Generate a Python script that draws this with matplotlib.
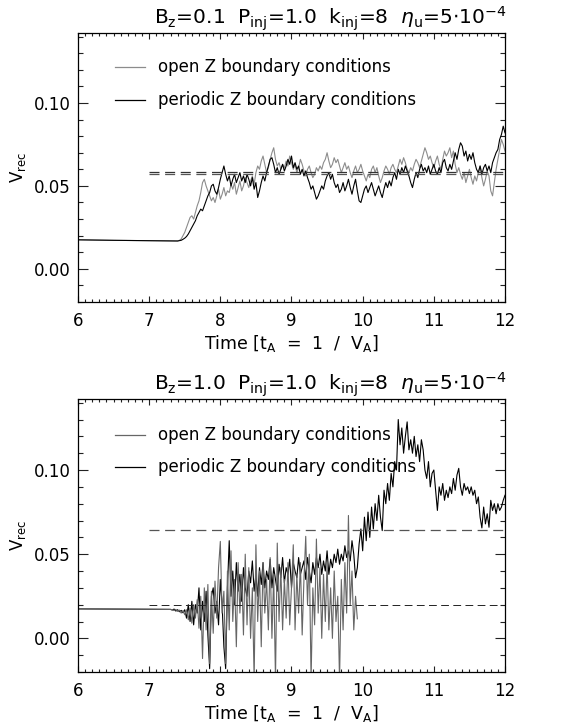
import numpy as np
import matplotlib
matplotlib.use('Agg')
import matplotlib.pyplot as plt
from matplotlib.ticker import MultipleLocator, FormatStrFormatter

# ---- top panel: Bz = 0.1 ----
t_flat = [6.0, 6.5, 7.0]
top_flat = [0.0175, 0.0172, 0.0170]

top_t = np.round(np.linspace(7.4, 12.0, 185), 3)
top_periodic = [
    0.0168, 0.0170, 0.0172, 0.0178, 0.0185, 0.0195, 0.021, 0.023, 0.025, 0.027, 0.029, 0.032, 0.034, 0.036, 0.035, 0.038, 0.041, 0.044, 0.046, 0.050,
    0.051, 0.047, 0.045, 0.049, 0.054, 0.058, 0.062, 0.057, 0.053, 0.056, 0.050, 0.054, 0.057, 0.052, 0.055, 0.058, 0.053, 0.056, 0.052, 0.057,
    0.054, 0.050, 0.055, 0.048, 0.052, 0.043, 0.047, 0.052, 0.056, 0.053, 0.058, 0.062, 0.066, 0.067, 0.063, 0.058, 0.061, 0.057, 0.060, 0.063,
    0.059, 0.062, 0.066, 0.063, 0.068, 0.061, 0.064, 0.060, 0.062, 0.057, 0.060, 0.056, 0.059, 0.055, 0.052, 0.048, 0.050, 0.046, 0.042, 0.044,
    0.047, 0.050, 0.048, 0.053, 0.056, 0.058, 0.054, 0.057, 0.052, 0.049, 0.051, 0.046, 0.048, 0.052, 0.047, 0.050, 0.054, 0.049, 0.045, 0.050,
    0.054, 0.047, 0.041, 0.040, 0.044, 0.048, 0.050, 0.046, 0.049, 0.052, 0.048, 0.044, 0.047, 0.050, 0.046, 0.043, 0.048, 0.052, 0.049, 0.053,
    0.050, 0.055, 0.058, 0.054, 0.060, 0.057, 0.061, 0.058, 0.062, 0.059, 0.056, 0.052, 0.049, 0.054, 0.058, 0.055, 0.060, 0.063, 0.059, 0.061,
    0.058, 0.062, 0.057, 0.060, 0.063, 0.059, 0.057, 0.061, 0.058, 0.064, 0.066, 0.061, 0.059, 0.063, 0.060, 0.065, 0.070, 0.066, 0.072, 0.076,
    0.074, 0.068, 0.071, 0.065, 0.069, 0.066, 0.070, 0.064, 0.060, 0.058, 0.062, 0.057, 0.061, 0.063, 0.059, 0.062, 0.058, 0.064, 0.067, 0.070,
    0.072, 0.078, 0.081, 0.086, 0.082,
]
top_open = [
    0.0168, 0.0172, 0.018, 0.020, 0.022, 0.025, 0.028, 0.031, 0.032, 0.030, 0.034, 0.038, 0.041, 0.046, 0.052, 0.054, 0.050, 0.047, 0.044, 0.041,
    0.043, 0.040, 0.044, 0.048, 0.042, 0.045, 0.049, 0.044, 0.047, 0.046, 0.051, 0.048, 0.052, 0.045, 0.049, 0.053, 0.047, 0.050, 0.055, 0.052,
    0.049, 0.053, 0.056, 0.051, 0.058, 0.062, 0.060, 0.065, 0.068, 0.063, 0.058, 0.061, 0.066, 0.070, 0.073, 0.066, 0.062, 0.064, 0.060, 0.063,
    0.061, 0.065, 0.062, 0.068, 0.064, 0.060, 0.063, 0.058, 0.061, 0.066, 0.063, 0.059, 0.056, 0.060, 0.062, 0.058, 0.055, 0.057, 0.061, 0.059,
    0.062, 0.060, 0.064, 0.066, 0.070, 0.065, 0.061, 0.063, 0.067, 0.064, 0.066, 0.062, 0.058, 0.061, 0.064, 0.060, 0.062, 0.058, 0.055, 0.059,
    0.062, 0.058, 0.060, 0.063, 0.059, 0.056, 0.053, 0.057, 0.055, 0.060, 0.062, 0.058, 0.061, 0.056, 0.052, 0.055, 0.059, 0.062, 0.060, 0.057,
    0.061, 0.063, 0.060, 0.058, 0.062, 0.066, 0.063, 0.067, 0.064, 0.060, 0.058, 0.061, 0.059, 0.063, 0.066, 0.064, 0.061, 0.065, 0.069, 0.073,
    0.070, 0.066, 0.068, 0.064, 0.061, 0.065, 0.068, 0.063, 0.060, 0.066, 0.071, 0.068, 0.070, 0.073, 0.067, 0.071, 0.063, 0.058, 0.061, 0.057,
    0.054, 0.058, 0.052, 0.056, 0.060, 0.055, 0.051, 0.056, 0.053, 0.058, 0.062, 0.055, 0.050, 0.054, 0.059, 0.056, 0.047, 0.044, 0.052, 0.060,
    0.066, 0.072, 0.078, 0.075, 0.071,
]
top_means = [0.0583, 0.0573]   # periodic, open
mean_span = [7.0, 12.0]

# ---- bottom panel: Bz = 1.0 ----
bot_flat = [0.0175, 0.0174, 0.0173]

bot_t_periodic = np.round(np.linspace(7.3, 12.0, 189), 3)
bot_periodic = [
    0.0172, 0.0168, 0.0174, 0.0162, 0.0170, 0.0158, 0.0166, 0.0152,
    0.0170, 0.0120, 0.0200, 0.0100, 0.0220, 0.0080, 0.0200, 0.0150,
    0.0300, 0.0050, 0.0220, 0.0100, 0.0280, 0.0020, -0.0180, 0.0250,
    0.0300, 0.0150, 0.0220, 0.0080, 0.0350, 0.0200, -0.0050, -0.0180,
    0.0300, 0.0580, 0.0250, 0.0400, 0.0200, 0.0450, 0.0280, 0.0380,
    0.0220, 0.0420, 0.0300, 0.0250, 0.0400, 0.0330, 0.0460, 0.0280,
    0.0380, 0.0250, 0.0420, 0.0320, 0.0450, 0.0300, 0.0400, 0.0350,
    0.0470, 0.0300, 0.0420, 0.0350, 0.0280, 0.0440, 0.0360, 0.0480,
    0.0330, 0.0420, 0.0380, 0.0470, 0.0300, 0.0450, 0.0400, 0.0360,
    0.0480, 0.0380, 0.0420, 0.0460, 0.0350, 0.0480, 0.0400, 0.0330,
    0.0450, 0.0380, 0.0480, 0.0420, 0.0500, 0.0380, 0.0460, 0.0400,
    0.0520, 0.0380, 0.0470, 0.0420, 0.0500, 0.0450, 0.0530, 0.0440,
    0.0500, 0.0460, 0.0550, 0.0480, 0.0520, 0.0460, 0.0580, 0.0500,
    0.0360, 0.0420, 0.0560, 0.0650, 0.0520, 0.0720, 0.0580, 0.0750,
    0.0600, 0.0780, 0.0650, 0.0800, 0.0700, 0.0850, 0.0720, 0.0640,
    0.0880, 0.0800, 0.0920, 0.0820, 0.0980, 0.0900, 0.1050, 0.1000,
    0.1300, 0.1150, 0.1250, 0.1100, 0.1200, 0.1286, 0.1120, 0.1180,
    0.1100, 0.1200, 0.1080, 0.1150, 0.1050, 0.1180, 0.1120, 0.1000,
    0.0950, 0.1050, 0.0900, 0.0980, 0.1000, 0.0880, 0.0760, 0.0900,
    0.0850, 0.0920, 0.0820, 0.0880, 0.0836, 0.0900, 0.0860, 0.0950,
    0.0880, 0.0970, 0.1010, 0.0900, 0.0850, 0.0920, 0.0880, 0.0900,
    0.0860, 0.0900, 0.0850, 0.0880, 0.0800, 0.0840, 0.0720, 0.0656,
    0.0780, 0.0680, 0.0740, 0.0660, 0.0820, 0.0760, 0.0800, 0.0740,
    0.0800, 0.0760, 0.0780, 0.0820,
    0.0850,
]

bot_t_open = np.round(np.linspace(7.3, 9.925, 106), 3)
bot_open = [
    0.0172, 0.0170, 0.0165, 0.0172, 0.0160, 0.0168, 0.0150, 0.0165,
    0.0140, 0.0170, 0.0110, 0.0180, 0.0090, 0.0200, 0.0120, 0.0230,
    0.0060, 0.0250, -0.0120, 0.0300, 0.0050, 0.0320, -0.0150, 0.0280,
    0.0030, 0.0340, 0.0120, 0.0420, 0.0576, 0.0150, 0.0280, -0.0150,
    0.0400, 0.0050, 0.0520, 0.0100, 0.0350, -0.0050, 0.0450, 0.0150,
    0.0380, 0.0020, 0.0500, 0.0080, 0.0420, 0.0000, 0.0300, -0.0250,
    0.0556, 0.0100, 0.0400, -0.0050, 0.0450, 0.0150, 0.0350, 0.0050,
    0.0480, 0.0000, 0.0380, -0.0250, 0.0566, 0.0100, 0.0420, 0.0050,
    0.0350, 0.0120, 0.0450, 0.0080, 0.0300, 0.0556, 0.0050, 0.0380,
    0.0150, 0.0450, 0.0020, 0.0350, 0.0606, 0.0200, 0.0500, -0.0250,
    0.0300, 0.0080, 0.0590, 0.0150, 0.0420, 0.0000, 0.0380, 0.0100,
    0.0450, 0.0050, 0.0300, 0.0000, 0.0400, 0.0100, 0.0250, -0.0250,
    0.0350, 0.0050, 0.0450, 0.0150, 0.0730, 0.0200, 0.0400, 0.0050,
    0.0250, 0.0116,
]
bot_means = [0.0642, 0.0196]   # periodic, open

titles = [r'B$_{\rm z}$=0.1  P$_{\rm inj}$=1.0  k$_{\rm inj}$=8  $\eta_{\rm u}$=5$\cdot$10$^{-4}$',
          r'B$_{\rm z}$=1.0  P$_{\rm inj}$=1.0  k$_{\rm inj}$=8  $\eta_{\rm u}$=5$\cdot$10$^{-4}$']
labels = ['open Z boundary conditions', 'periodic Z boundary conditions']

plt.rcParams['font.family'] = 'DejaVu Sans'
plt.rcParams['mathtext.fontset'] = 'dejavusans'

fig = plt.figure(figsize=(5.79, 7.25), dpi=100)
ax1 = fig.add_axes([0.1347, 0.5834, 0.7375, 0.3707])
ax2 = fig.add_axes([0.1347, 0.0731, 0.7375, 0.3761])

def estilo(ax, titulo):
    ax.set_xlim(6, 12)
    ax.set_ylim(-0.02, 0.142)
    ax.xaxis.set_major_locator(MultipleLocator(1))
    ax.xaxis.set_minor_locator(MultipleLocator(0.1))
    ax.yaxis.set_major_locator(MultipleLocator(0.05))
    ax.yaxis.set_minor_locator(MultipleLocator(0.01))
    ax.yaxis.set_major_formatter(FormatStrFormatter('%.2f'))
    ax.tick_params(axis='both', which='both', direction='in', top=True, right=True,
                   width=0.8, labelsize=12, color='#222222')
    ax.tick_params(axis='x', which='major', length=4, pad=7)
    ax.tick_params(axis='x', which='minor', length=2)
    ax.tick_params(axis='y', which='major', length=7, pad=5.5)
    ax.tick_params(axis='y', which='minor', length=3.5)
    for s in ax.spines.values():
        s.set_linewidth(0.9)
    ax.set_title(titulo, fontsize=14.5, pad=3, x=0.59)
    ax.set_xlabel(r'Time [t$_{\rm A}$  =  1  /  V$_{\rm A}$]', fontsize=12.5, labelpad=2)
    ax.set_ylabel(r'V$_{\rm rec}$', fontsize=12, labelpad=4)

traco = (0, (8, 4.5))

# top
estilo(ax1, titles[0])
ax1.plot(t_flat + list(top_t), top_flat + top_open, color='#8c8c8c', lw=0.8)
ax1.plot(t_flat + list(top_t), top_flat + top_periodic, color='black', lw=0.8)
ax1.hlines(top_means[0], mean_span[0], mean_span[1], colors='#333333', linestyles=traco, lw=0.9)
ax1.hlines(top_means[1], mean_span[0], mean_span[1], colors='#555555', linestyles=traco, lw=0.9)
for y, cor, lab in zip([0.875, 0.752], ['#8c8c8c', 'black'], labels):
    ax1.plot([0.087, 0.157], [y, y], transform=ax1.transAxes, color=cor, lw=0.9)
    ax1.text(0.187, y, lab, transform=ax1.transAxes, va='center', fontsize=12)

# bottom
estilo(ax2, titles[1])
ax2.plot(t_flat + list(bot_t_periodic), bot_flat + bot_periodic, color='black', lw=0.8)
ax2.plot(t_flat + list(bot_t_open), bot_flat + bot_open, color='#666666', lw=0.8)
ax2.hlines(bot_means[0], mean_span[0], mean_span[1], colors='#555555', linestyles=traco, lw=0.9)
ax2.hlines(bot_means[1], mean_span[0], mean_span[1], colors='#222222', linestyles=traco, lw=0.7)
for y, cor, lab in zip([0.868, 0.751], ['#666666', 'black'], labels):
    ax2.plot([0.087, 0.157], [y, y], transform=ax2.transAxes, color=cor, lw=0.9)
    ax2.text(0.187, y, lab, transform=ax2.transAxes, va='center', fontsize=12)

fig.savefig('out.png', dpi=100)
